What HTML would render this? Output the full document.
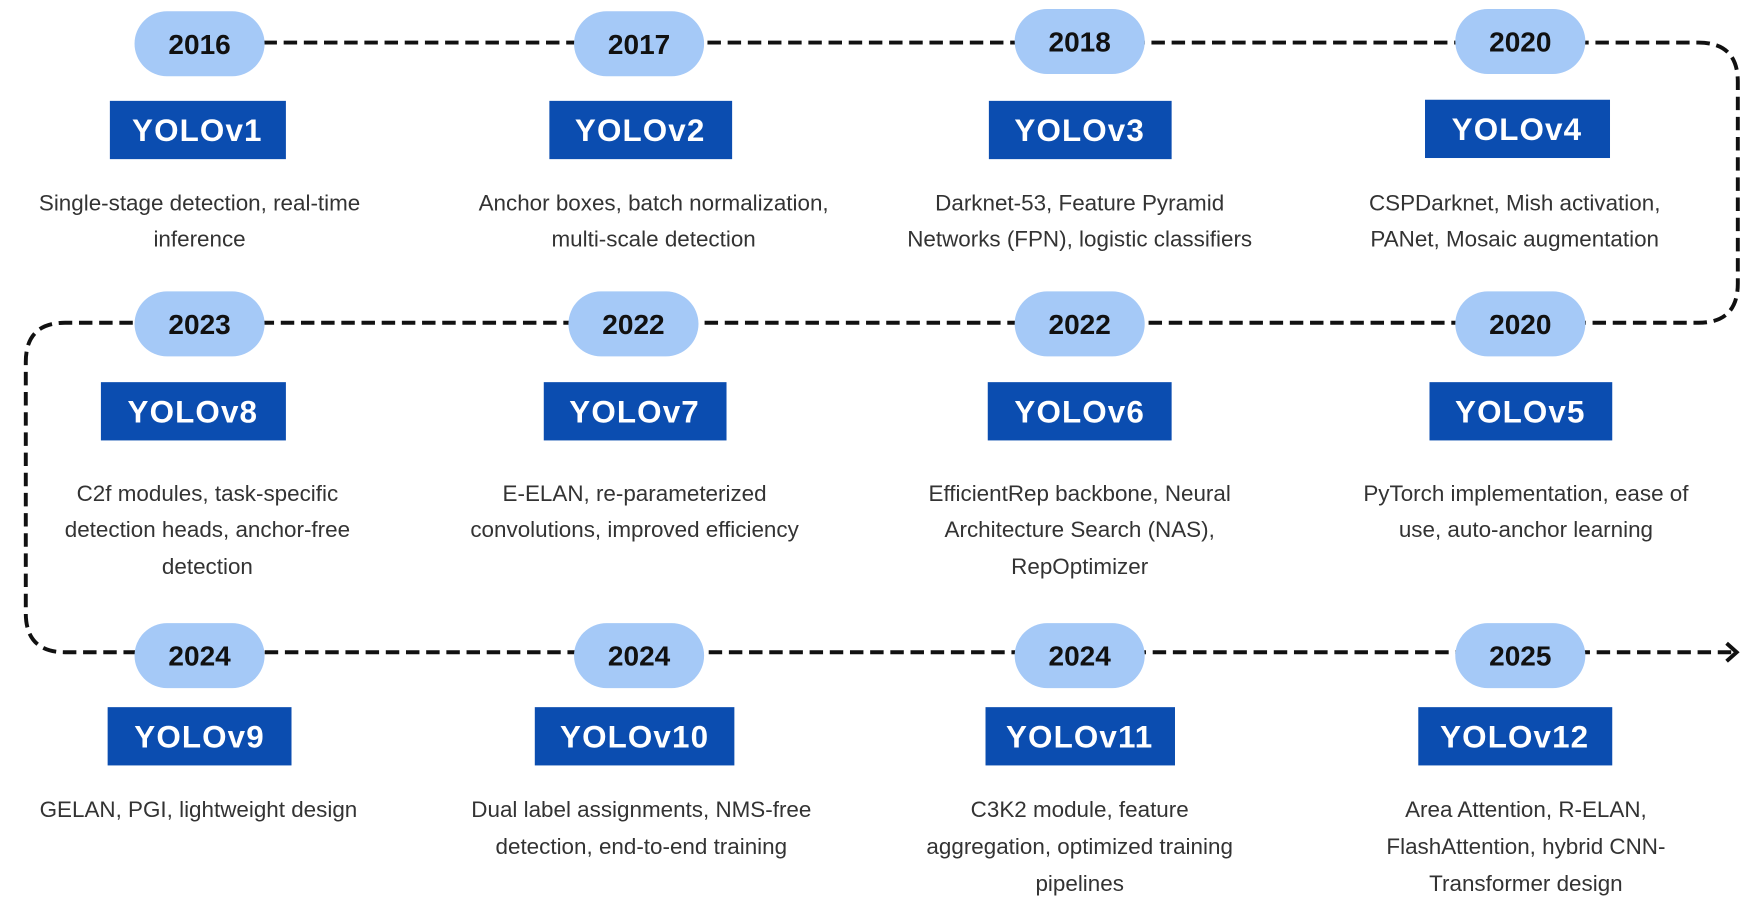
<!DOCTYPE html>
<html><head><meta charset="utf-8"><style>
html,body{margin:0;padding:0;background:#fff;width:1758px;height:910px;overflow:hidden}
svg{display:block}
.yr{font-family:"Liberation Sans",sans-serif;font-weight:bold;font-size:25px;fill:#111;text-anchor:middle}
.yl{font-family:"Liberation Sans",sans-serif;font-weight:bold;font-size:28px;fill:#fff;text-anchor:middle;letter-spacing:1px}
.d{font-family:"Liberation Sans",sans-serif;font-size:20px;fill:#333;text-anchor:middle}
</style></head><body>
<svg width="1758" height="910" viewBox="0 0 1568 812" preserveAspectRatio="none" xmlns="http://www.w3.org/2000/svg">
<g fill="none" stroke="#111" stroke-width="3.5" stroke-dasharray="12 6">
<path d="M235,38 H1515 Q1550,38 1550,73 V253 Q1550,288 1515,288 H58 Q23,288 23,323 V547 Q23,582 58,582 H1546"/>
</g>
<path d="M1540,574 L1549,582 L1540,590" fill="none" stroke="#111" stroke-width="3.5"/>
<g fill="#a5c9f7">
<rect x="120" y="10" width="116" height="58" rx="29"/>
<rect x="512" y="10" width="116" height="58" rx="29"/>
<rect x="905" y="8" width="116" height="58" rx="29"/>
<rect x="1298" y="8" width="116" height="58" rx="29"/>
<rect x="120" y="260" width="116" height="58" rx="29"/>
<rect x="507" y="260" width="116" height="58" rx="29"/>
<rect x="905" y="260" width="116" height="58" rx="29"/>
<rect x="1298" y="260" width="116" height="58" rx="29"/>
<rect x="120" y="556" width="116" height="58" rx="29"/>
<rect x="512" y="556" width="116" height="58" rx="29"/>
<rect x="905" y="556" width="116" height="58" rx="29"/>
<rect x="1298" y="556" width="116" height="58" rx="29"/>
</g>
<g class="yr">
<text x="178" y="48">2016</text><text x="570" y="48">2017</text><text x="963" y="46">2018</text><text x="1356" y="46">2020</text>
<text x="178" y="298">2023</text><text x="565" y="298">2022</text><text x="963" y="298">2022</text><text x="1356" y="298">2020</text>
<text x="178" y="594">2024</text><text x="570" y="594">2024</text><text x="963" y="594">2024</text><text x="1356" y="594">2025</text>
</g>
<g fill="#0b4db0">
<rect x="98" y="90" width="157" height="52"/><rect x="490" y="90" width="163" height="52"/><rect x="882" y="90" width="163" height="52"/><rect x="1271" y="89" width="165" height="52"/>
<rect x="90" y="341" width="165" height="52"/><rect x="485" y="341" width="163" height="52"/><rect x="881" y="341" width="164" height="52"/><rect x="1275" y="341" width="163" height="52"/>
<rect x="96" y="631" width="164" height="52"/><rect x="477" y="631" width="178" height="52"/><rect x="879" y="631" width="169" height="52"/><rect x="1265" y="631" width="173" height="52"/>
</g>
<g class="yl">
<text x="176" y="126">YOLOv1</text><text x="571" y="126">YOLOv2</text><text x="963" y="126">YOLOv3</text><text x="1353" y="125">YOLOv4</text>
<text x="172" y="377">YOLOv8</text><text x="566" y="377">YOLOv7</text><text x="963" y="377">YOLOv6</text><text x="1356" y="377">YOLOv5</text>
<text x="178" y="667">YOLOv9</text><text x="566" y="667">YOLOv10</text><text x="963" y="667">YOLOv11</text><text x="1351" y="667">YOLOv12</text>
</g>
<g class="d">
<text x="178" y="188">Single-stage detection, real-time</text><text x="178" y="220">inference</text>
<text x="583" y="188">Anchor boxes, batch normalization,</text><text x="583" y="220">multi-scale detection</text>
<text x="963" y="188">Darknet-53, Feature Pyramid</text><text x="963" y="220">Networks (FPN), logistic classifiers</text>
<text x="1351" y="188">CSPDarknet, Mish activation,</text><text x="1351" y="220">PANet, Mosaic augmentation</text>
<text x="185" y="447">C2f modules, task-specific</text><text x="185" y="479">detection heads, anchor-free</text><text x="185" y="512">detection</text>
<text x="566" y="447">E-ELAN, re-parameterized</text><text x="566" y="479">convolutions, improved efficiency</text>
<text x="963" y="447">EfficientRep backbone, Neural</text><text x="963" y="479">Architecture Search (NAS),</text><text x="963" y="512">RepOptimizer</text>
<text x="1361" y="447">PyTorch implementation, ease of</text><text x="1361" y="479">use, auto-anchor learning</text>
<text x="177" y="729">GELAN, PGI, lightweight design</text>
<text x="572" y="729">Dual label assignments, NMS-free</text><text x="572" y="762">detection, end-to-end training</text>
<text x="963" y="729">C3K2 module, feature</text><text x="963" y="762">aggregation, optimized training</text><text x="963" y="795">pipelines</text>
<text x="1361" y="729">Area Attention, R-ELAN,</text><text x="1361" y="762">FlashAttention, hybrid CNN-</text><text x="1361" y="795">Transformer design</text>
</g>
</svg>
</body></html>
